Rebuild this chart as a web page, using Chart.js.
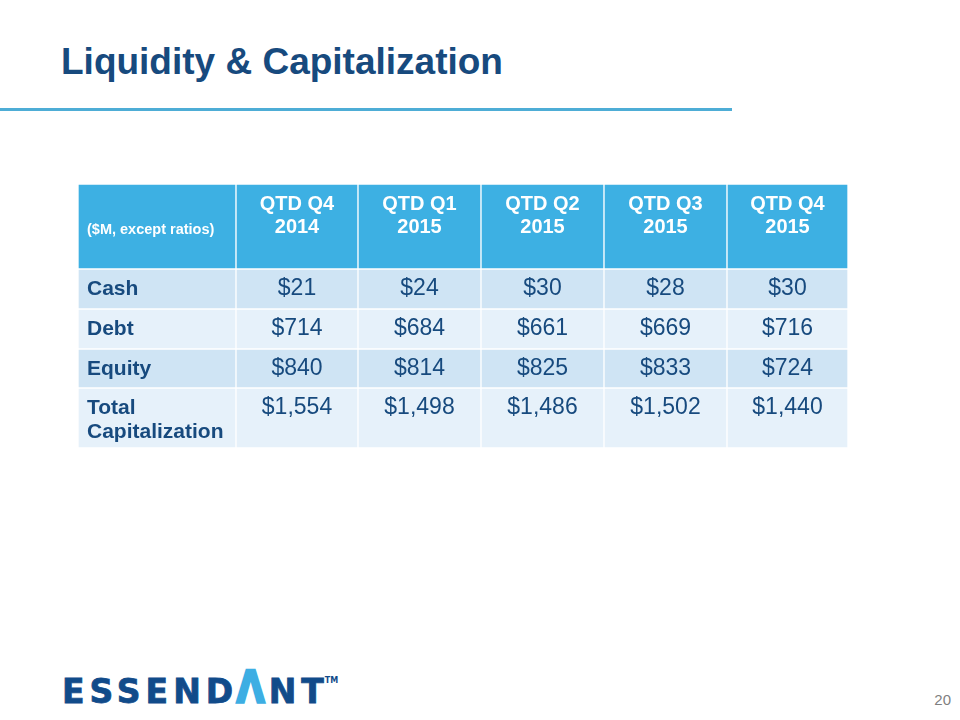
<!DOCTYPE html>
<html>
<head>
<meta charset="utf-8">
<script src="https://cdn.jsdelivr.net/npm/chart.js@4"></script>
<style>
    body { margin: 0; width: 960px; height: 720px; background: #fff; position: relative; overflow: hidden; font-family: "Liberation Sans", Arial, sans-serif; }
    #titre { position: absolute; left: 61px; top: 43px; font-size: 37px; line-height: 37px; font-weight: bold; color: #174a7e; white-space: nowrap; }
    #trait { position: absolute; left: 0; top: 108px; width: 732px; height: 3px; background: #4eadd6; }
    #tableau { position: absolute; left: 78px; top: 184px; }
    #logo { position: absolute; left: 62px; top: 672px; font-family: "DejaVu Sans", sans-serif; font-weight: bold; font-size: 33px; line-height: 40px; letter-spacing: 5px; color: #114b8a; white-space: nowrap; -webkit-text-stroke: 0.8px #114b8a; }
    #logo .a { color: #3daee3; -webkit-text-stroke: 2px #3daee3; display: inline-block; transform: scale(1.1, 1.35); transform-origin: 50% 80%; }
    #logo .tm { font-size: 8px; letter-spacing: 0; position: relative; top: -20px; margin-left: -4px; -webkit-text-stroke: 0; }
    #page { position: absolute; right: 9px; top: 692px; font-size: 15px; line-height: 15px; color: #7f7f7f; }
</style>
</head>
<body>
<div id="titre">Liquidity &amp; Capitalization</div>
<div id="trait"></div>
<canvas id="tableau" width="770" height="264" style="width:770px;height:264px"></canvas>
<div id="logo">ESSEND<span class="a">Λ</span>NT<span class="tm">TM</span></div>
<div id="page">20</div>
<script>
// données du tableau
var unite = '($M, except ratios)';
var trimestres = ['QTD Q4', 'QTD Q1', 'QTD Q2', 'QTD Q3', 'QTD Q4'];
var annees = ['2014', '2015', '2015', '2015', '2015'];
var lignes = [['Cash'], ['Debt'], ['Equity'], ['Total', 'Capitalization']];
var cash = [21, 24, 30, 28, 30];
var debt = [714, 684, 661, 669, 716];
var equity = [840, 814, 825, 833, 724];
var totalCap = [1554, 1498, 1486, 1502, 1440];
var valeurs = [cash, debt, equity, totalCap];

// mise en page
var largeurs = [158, 122, 123, 123, 123, 121];
var hauteurs = [85, 40, 40, 39, 60];
var couleurs = ['#3db0e3', '#cfe4f4', '#e6f1fa', '#cfe4f4', '#e6f1fa'];
var bleu = '#174a7e';
var police = '"Liberation Sans", Arial, sans-serif';

var bordsX = [0];
largeurs.forEach(function (l) { bordsX.push(bordsX[bordsX.length - 1] + l); });
var bordsY = [0];
hauteurs.forEach(function (h) { bordsY.push(bordsY[bordsY.length - 1] + h); });
var W = bordsX[bordsX.length - 1], H = bordsY[bordsY.length - 1];

var datasets = hauteurs.map(function (h, r) {
    return {
        data: largeurs.map(function (l, c) {
            return { x: [bordsX[c], bordsX[c + 1]], y: bordsY[r] + h / 2 };
        }),
        backgroundColor: couleurs[r],
        borderColor: '#ffffff',
        borderWidth: 1,
        borderSkipped: false,
        barThickness: h,
        stack: 'grille'
    };
});

function fmt(v) {
    return '$' + v.toLocaleString('en-US');
}

var textes = {
    id: 'textes',
    afterDatasetsDraw: function (chart) {
        var ctx = chart.ctx, sx = chart.scales.x, sy = chart.scales.y;
        ctx.save();
        ctx.textBaseline = 'middle';

        // en-tête
        ctx.fillStyle = '#ffffff';
        ctx.font = 'bold 14.5px ' + police;
        ctx.textAlign = 'left';
        ctx.fillText(unite, sx.getPixelForValue(bordsX[0] + 9), sy.getPixelForValue(bordsY[0] + 46));
        ctx.font = 'bold 20px ' + police;
        ctx.textAlign = 'center';
        trimestres.forEach(function (t, i) {
            var cx = sx.getPixelForValue((bordsX[i + 1] + bordsX[i + 2]) / 2);
            ctx.fillText(t, cx, sy.getPixelForValue(bordsY[0] + 20));
            ctx.fillText(annees[i], cx, sy.getPixelForValue(bordsY[0] + 43));
        });

        // lignes
        ctx.fillStyle = bleu;
        lignes.forEach(function (lib, r) {
            var haut = bordsY[r + 1];
            ctx.font = 'bold 21px ' + police;
            ctx.textAlign = 'left';
            lib.forEach(function (t, k) {
                ctx.fillText(t, sx.getPixelForValue(bordsX[0] + 9), sy.getPixelForValue(haut + 20 + k * 24.5));
            });
            ctx.font = '23px ' + police;
            ctx.textAlign = 'center';
            valeurs[r].forEach(function (v, c) {
                var cx = sx.getPixelForValue((bordsX[c + 1] + bordsX[c + 2]) / 2);
                ctx.fillText(fmt(v), cx, sy.getPixelForValue(haut + 20));
            });
        });
        ctx.restore();
    }
};

var ctx = document.getElementById('tableau').getContext('2d');
var chart = new Chart(ctx, {
    type: 'bar',
    data: { labels: [], datasets: datasets },
    options: {
        indexAxis: 'y',
        responsive: false,
        animation: false,
        devicePixelRatio: 1,
        layout: { padding: 0 },
        plugins: { legend: { display: false }, tooltip: { enabled: false } },
        scales: {
            x: { type: 'linear', min: 0, max: W, display: false, offset: false },
            y: { type: 'linear', min: 0, max: H, reverse: true, display: false, offset: false, stacked: true }
        }
    },
    plugins: [textes]
});
</script>
</body>
</html>
